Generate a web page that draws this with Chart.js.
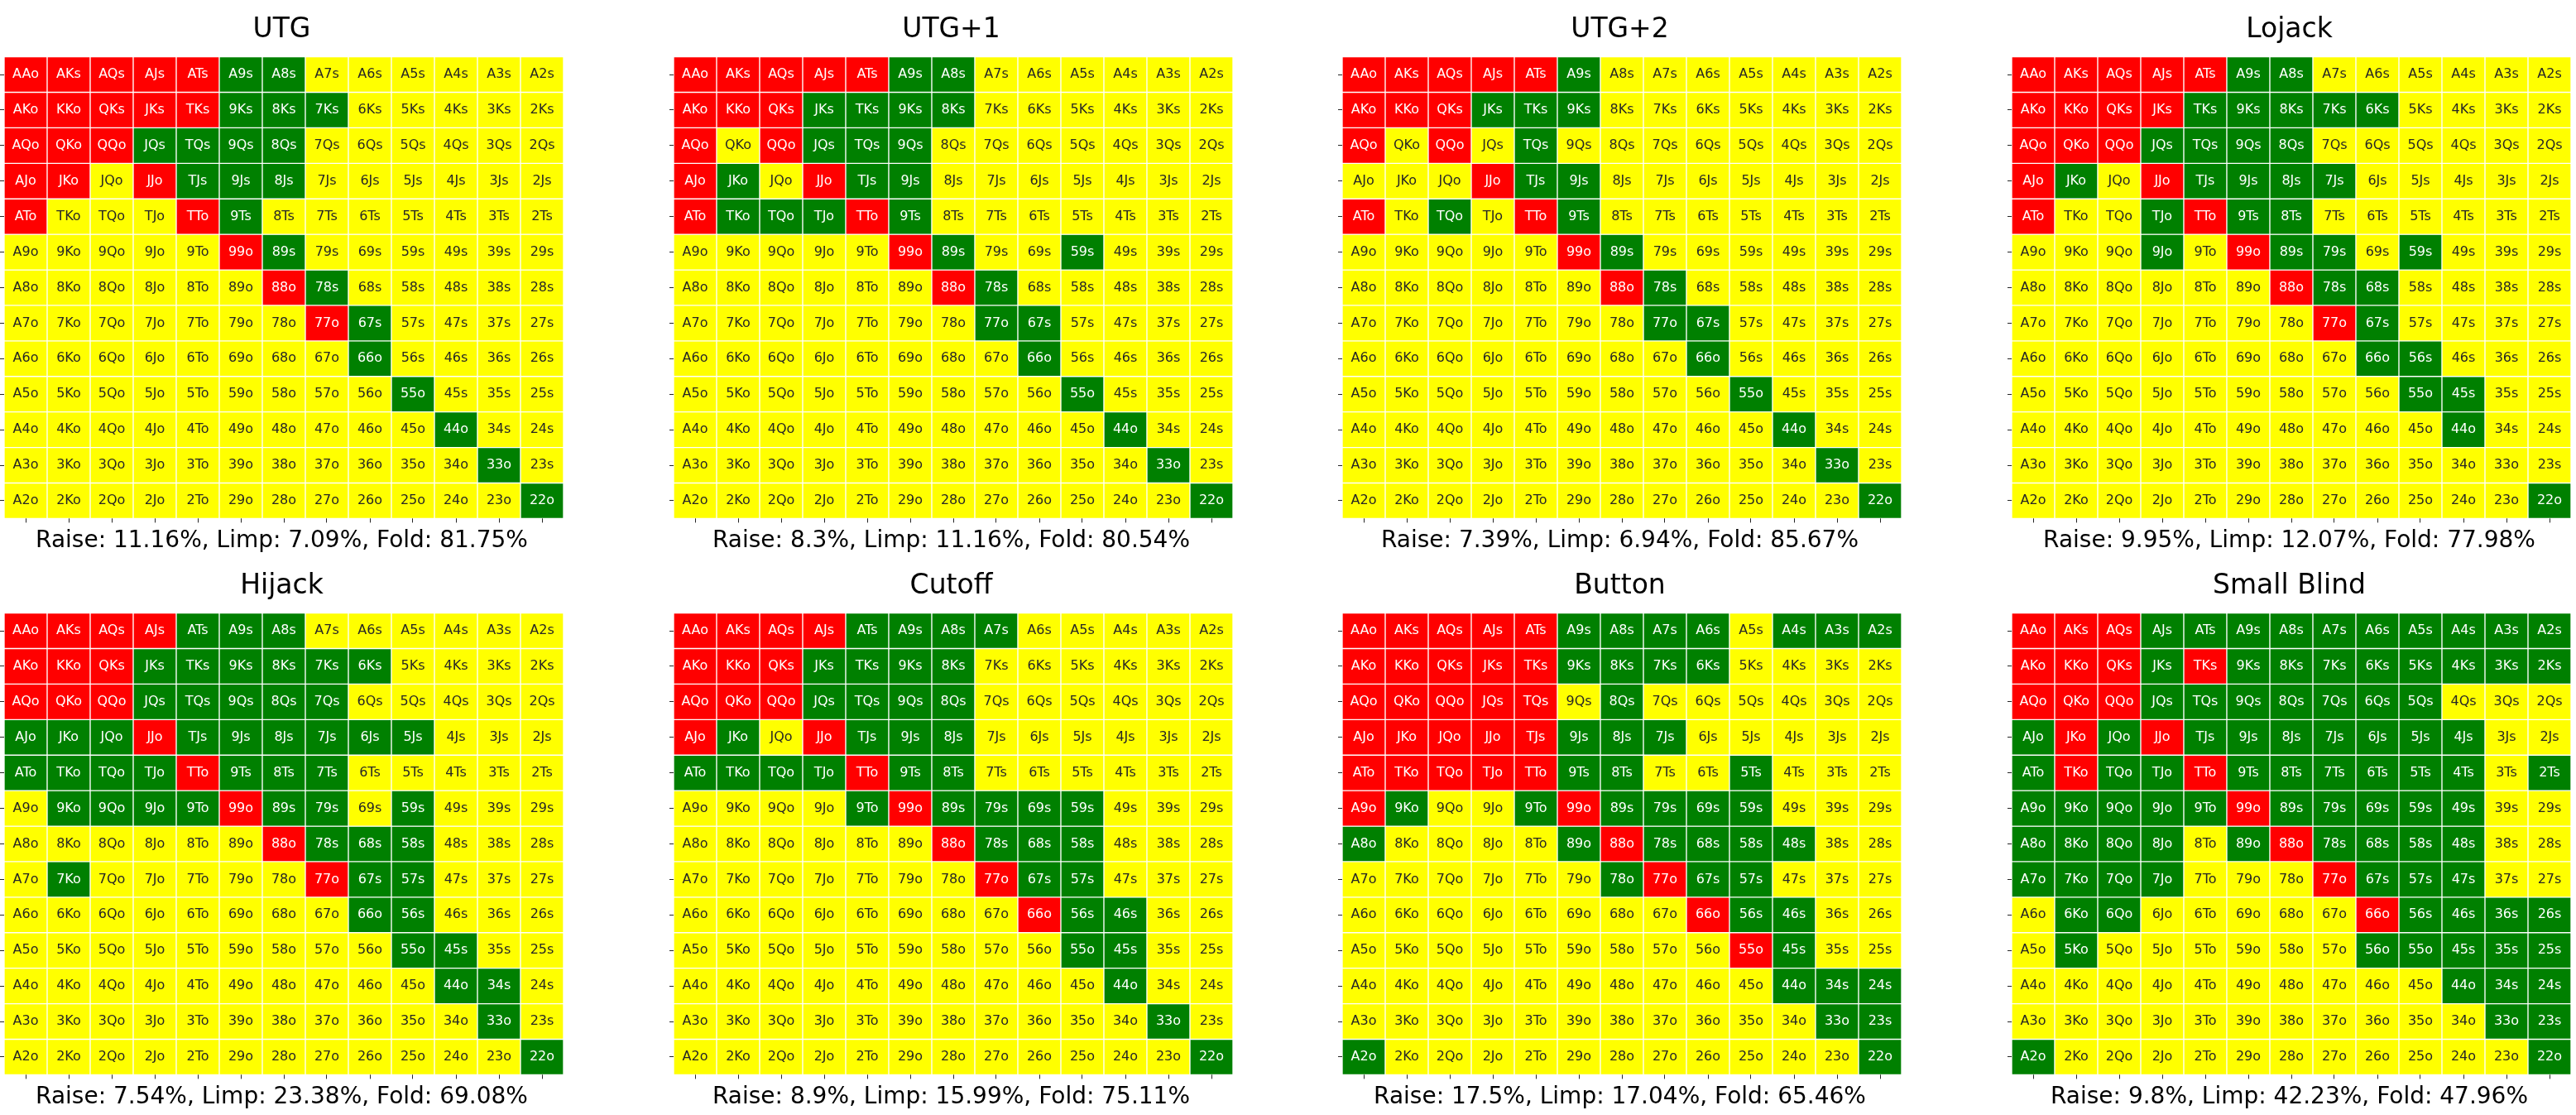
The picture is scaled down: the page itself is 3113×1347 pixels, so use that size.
<!DOCTYPE html>
<html>
<head>
<meta charset="utf-8">
<title>Preflop ranges by position</title>
<script src="https://cdn.jsdelivr.net/npm/chart.js@4.4.1/dist/chart.umd.min.js"></script>
<style>
    html, body { margin: 0; padding: 0; background: #fff; }
    body { width: 3113px; height: 1347px; position: relative; overflow: hidden; }
    .panel { position: absolute; width: 681px; height: 672px; }
</style>
</head>
<body>
<div id="wrap"></div>
<script>
// ===============================================
// DATA
// ===============================================
const RANKS = ['A', 'K', 'Q', 'J', 'T', '9', '8', '7', '6', '5', '4', '3', '2'];

const POSITIONS = ['UTG', 'UTG+1', 'UTG+2', 'Lojack', 'Hijack', 'Cutoff', 'Button', 'Small Blind'];
const RAISE_PCT = [11.16, 8.3, 7.39, 9.95, 7.54, 8.9, 17.5, 9.8];
const LIMP_PCT  = [7.09, 11.16, 6.94, 12.07, 23.38, 15.99, 17.04, 42.23];
const FOLD_PCT  = [81.75, 80.54, 85.67, 77.98, 69.08, 75.11, 65.46, 47.96];

// R = raise, L = limp, F = fold (one string per row, one letter per column)
const RANGE_UTG = [
    'RRRRRLLFFFFFF',
    'RRRRRLLLFFFFF',
    'RRRLLLLFFFFFF',
    'RRFRLLLFFFFFF',
    'RFFFRLFFFFFFF',
    'FFFFFRLFFFFFF',
    'FFFFFFRLFFFFF',
    'FFFFFFFRLFFFF',
    'FFFFFFFFLFFFF',
    'FFFFFFFFFLFFF',
    'FFFFFFFFFFLFF',
    'FFFFFFFFFFFLF',
    'FFFFFFFFFFFFL'
];
const RANGE_UTG1 = [
    'RRRRRLLFFFFFF',
    'RRRLLLLFFFFFF',
    'RFRLLLFFFFFFF',
    'RLFRLLFFFFFFF',
    'RLLLRLFFFFFFF',
    'FFFFFRLFFLFFF',
    'FFFFFFRLFFFFF',
    'FFFFFFFLLFFFF',
    'FFFFFFFFLFFFF',
    'FFFFFFFFFLFFF',
    'FFFFFFFFFFLFF',
    'FFFFFFFFFFFLF',
    'FFFFFFFFFFFFL'
];
const RANGE_UTG2 = [
    'RRRRRLFFFFFFF',
    'RRRLLLFFFFFFF',
    'RFRFLFFFFFFFF',
    'FFFRLLFFFFFFF',
    'RFLFRLFFFFFFF',
    'FFFFFRLFFFFFF',
    'FFFFFFRLFFFFF',
    'FFFFFFFLLFFFF',
    'FFFFFFFFLFFFF',
    'FFFFFFFFFLFFF',
    'FFFFFFFFFFLFF',
    'FFFFFFFFFFFLF',
    'FFFFFFFFFFFFL'
];
const RANGE_LJ = [
    'RRRRRLLFFFFFF',
    'RRRRLLLLLFFFF',
    'RRRLLLLFFFFFF',
    'RLFRLLLLFFFFF',
    'RFFLRLLFFFFFF',
    'FFFLFRLLFLFFF',
    'FFFFFFRLLFFFF',
    'FFFFFFFRLFFFF',
    'FFFFFFFFLLFFF',
    'FFFFFFFFFLLFF',
    'FFFFFFFFFFLFF',
    'FFFFFFFFFFFFF',
    'FFFFFFFFFFFFL'
];
const RANGE_HJ = [
    'RRRRLLLFFFFFF',
    'RRRLLLLLLFFFF',
    'RRRLLLLLFFFFF',
    'LLLRLLLLLLFFF',
    'LLLLRLLLFFFFF',
    'FLLLLRLLFLFFF',
    'FFFFFFRLLLFFF',
    'FLFFFFFRLLFFF',
    'FFFFFFFFLLFFF',
    'FFFFFFFFFLLFF',
    'FFFFFFFFFFLLF',
    'FFFFFFFFFFFLF',
    'FFFFFFFFFFFFL'
];
const RANGE_CO = [
    'RRRRLLLLFFFFF',
    'RRRLLLLFFFFFF',
    'RRRLLLLFFFFFF',
    'RLFRLLLFFFFFF',
    'LLLLRLLFFFFFF',
    'FFFFLRLLLLFFF',
    'FFFFFFRLLLFFF',
    'FFFFFFFRLLFFF',
    'FFFFFFFFRLLFF',
    'FFFFFFFFFLLFF',
    'FFFFFFFFFFLFF',
    'FFFFFFFFFFFLF',
    'FFFFFFFFFFFFL'
];
const RANGE_BTN = [
    'RRRRRLLLLFLLL',
    'RRRRRLLLLFFFF',
    'RRRRRFLFFFFFF',
    'RRRRRLLLFFFFF',
    'RRRRRLLFFLFFF',
    'RLFFLRLLLLFFF',
    'LFFFFLRLLLLFF',
    'FFFFFFLRLLFFF',
    'FFFFFFFFRLLFF',
    'FFFFFFFFFRLFF',
    'FFFFFFFFFFLLL',
    'FFFFFFFFFFFLL',
    'LFFFFFFFFFFFL'
];
const RANGE_SB = [
    'RRRLLLLLLLLLL',
    'RRRLRLLLLLLLL',
    'RRRLLLLLLLFFF',
    'LRLRLLLLLLLFF',
    'LRLLRLLLLLLFL',
    'LLLLLRLLLLLFF',
    'LLLLFLRLLLLFF',
    'LLLLFFFRLLLFF',
    'FLLFFFFFRLLLL',
    'FLFFFFFFLLLLL',
    'FFFFFFFFFFLLL',
    'FFFFFFFFFFFLL',
    'LFFFFFFFFFFFL'
];

const RANGES = [RANGE_UTG, RANGE_UTG1, RANGE_UTG2, RANGE_LJ, RANGE_HJ, RANGE_CO, RANGE_BTN, RANGE_SB];

// ===============================================
// STYLE
// ===============================================
const FILL = { R: '#ff0000', L: '#008000', F: '#ffff00' };
const INK  = { R: '#ffffff', L: '#ffffff', F: '#262626' };
const FONT = 'DejaVu Sans';

const COL_STEP = 808.7;
const ROW_TOPS = [0, 671.7];

// hand name as printed in each cell
function handLabel(i, j) {
    if (i === j) return RANKS[i] + RANKS[j] + 'o';
    if (i < j) return i === 0 ? 'A' + RANKS[j] + 's' : RANKS[j] + RANKS[i] + 's';
    return j === 0 ? 'A' + RANKS[i] + 'o' : RANKS[i] + RANKS[j] + 'o';
}

// draws the hand names in the middle of each bar
const cellLabels = {
    id: 'cellLabels',
    afterDatasetsDraw(chart) {
        const ctx = chart.ctx;
        ctx.save();
        ctx.font = `16px "${FONT}"`;
        ctx.textAlign = 'center';
        ctx.textBaseline = 'middle';
        chart.data.datasets.forEach((ds, i) => {
            chart.getDatasetMeta(i).data.forEach((bar, j) => {
                const { x, y, base } = bar.getProps(['x', 'y', 'base'], true);
                ctx.fillStyle = ds.inkColors[j];
                ctx.fillText(ds.cellText[j], x, (y + base) / 2);
            });
        });
        ctx.restore();
    }
};

function buildDatasets(range) {
    return range.map((row, i) => {
        const acts = row.split('');
        return {
            data: RANKS.map((_, j) => [i, i + 1]),
            backgroundColor: acts.map(a => FILL[a]),
            inkColors: acts.map(a => INK[a]),
            cellText: RANKS.map((_, j) => handLabel(i, j)),
            borderColor: '#ffffff',
            borderWidth: 1,
            borderSkipped: false,
            barPercentage: 1,
            categoryPercentage: 1
        };
    });
}

function createPanel(p) {
    const div = document.createElement('div');
    div.className = 'panel';
    div.style.left = (p % 4) * COL_STEP + 'px';
    div.style.top = ROW_TOPS[Math.floor(p / 4)] + 'px';
    const canvas = document.createElement('canvas');
    div.appendChild(canvas);
    document.getElementById('wrap').appendChild(div);

    const subtitle = `Raise: ${RAISE_PCT[p]}%, Limp: ${LIMP_PCT[p]}%, Fold: ${FOLD_PCT[p]}%`;

    return new Chart(canvas.getContext('2d'), {
        type: 'bar',
        data: {
            labels: RANKS,
            datasets: buildDatasets(RANGES[p])
        },
        options: {
            responsive: true,
            maintainAspectRatio: false,
            animation: false,
            events: [],
            layout: { padding: 0 },
            plugins: {
                legend: { display: false },
                tooltip: { enabled: false },
                title: {
                    display: true,
                    text: POSITIONS[p],
                    color: '#000000',
                    font: { family: FONT, size: 33, weight: 'normal' },
                    padding: { top: 17, bottom: 12 }
                },
                subtitle: {
                    display: true,
                    position: 'bottom',
                    text: subtitle,
                    color: '#000000',
                    font: { family: FONT, size: 28, weight: 'normal' },
                    padding: { top: 6, bottom: 1 }
                }
            },
            scales: {
                x: {
                    stacked: true,
                    ticks: { display: false },
                    border: { display: false },
                    grid: {
                        offset: false,
                        drawOnChartArea: false,
                        drawTicks: true,
                        tickLength: 5,
                        tickWidth: 1,
                        color: '#262626'
                    }
                },
                y: {
                    stacked: false,
                    reverse: true,
                    min: 0,
                    max: RANKS.length,
                    afterBuildTicks: scale => {
                        scale.ticks = RANKS.map((_, i) => ({ value: i + 0.5 }));
                    },
                    ticks: { display: false },
                    border: { display: false },
                    grid: {
                        drawOnChartArea: false,
                        drawTicks: true,
                        tickLength: 5,
                        tickWidth: 1,
                        color: '#262626'
                    }
                }
            }
        },
        plugins: [cellLabels]
    });
}

POSITIONS.forEach((_, p) => createPanel(p));
</script>
</body>
</html>
